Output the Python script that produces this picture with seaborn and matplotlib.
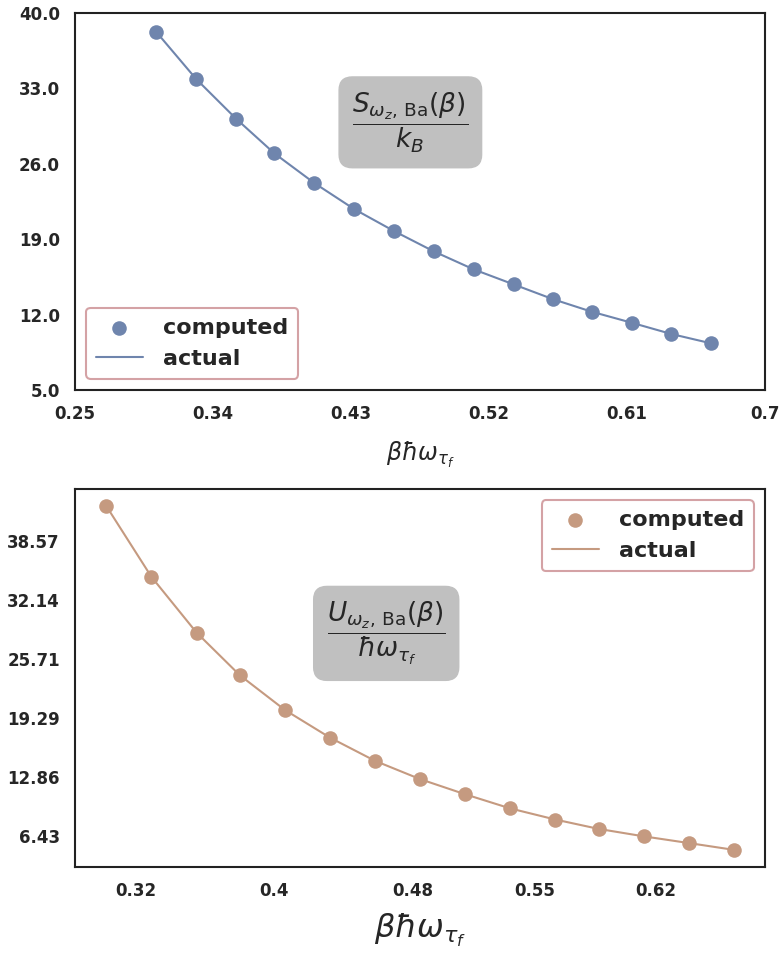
import matplotlib
matplotlib.use("Agg")
import matplotlib.pyplot as plt
import numpy as np
import pandas as pd
import seaborn as sns

# beta * hbar * omega_tau_f sample points
beta_hw = [0.303, 0.329, 0.355, 0.380, 0.406, 0.432, 0.458, 0.484,
           0.510, 0.536, 0.562, 0.587, 0.613, 0.639, 0.665]

# entropy S / k_B
entropy = [38.24, 33.87, 30.19, 26.97, 24.22, 21.80, 19.76, 17.87,
           16.20, 14.81, 13.42, 12.27, 11.25, 10.20, 9.33]

# internal energy U / (hbar omega)
energy = [42.31, 34.61, 28.55, 23.90, 20.12, 17.11, 14.58, 12.59,
          10.94, 9.40, 8.19, 7.17, 6.36, 5.63, 4.89]

top_xticks = [0.25, 0.34, 0.43, 0.52, 0.61, 0.7]
top_xlabels = ["0.25", "0.34", "0.43", "0.52", "0.61", "0.7"]
top_yticks = [5.0, 12.0, 19.0, 26.0, 33.0, 40.0]
top_ylabels = ["5.0", "12.0", "19.0", "26.0", "33.0", "40.0"]

bot_xticks = [0.32, 0.4, 0.48, 0.55, 0.62]
bot_xlabels = ["0.32", "0.4", "0.48", "0.55", "0.62"]
bot_yticks = [6.43, 12.86, 19.29, 25.71, 32.14, 38.57]
bot_ylabels = ["6.43", "12.86", "19.29", "25.71", "32.14", "38.57"]

sns.set_theme(style="white")

blue = "#6F85AD"
brown = "#C59A80"
legend_edge = "#D4A2A5"

df = pd.DataFrame({"x": beta_hw, "S": entropy, "U": energy})

fig = plt.figure(figsize=(7.8, 9.56), dpi=100)
ax1 = fig.add_axes([0.0962, 0.592, 0.8846, 0.3944])
ax2 = fig.add_axes([0.0962, 0.0931, 0.8846, 0.3954])


def draw(ax, col, color):
    sns.scatterplot(data=df, x="x", y=col, ax=ax, color=color, s=110,
                    linewidth=0, label="computed", zorder=3)
    sns.lineplot(data=df, x="x", y=col, ax=ax, color=color, lw=1.5,
                 label="actual", zorder=2)


draw(ax1, "S", blue)
draw(ax2, "U", brown)

ax1.set_xlim(0.25, 0.7)
ax1.set_ylim(5.0, 40.0)
ax1.set_xticks(top_xticks)
ax1.set_xticklabels(top_xlabels)
ax1.set_yticks(top_yticks)
ax1.set_yticklabels(top_ylabels)
ax1.set_xlabel(r"$\beta\hbar\omega_{\tau_f}$", fontsize=17, labelpad=12)
ax1.set_ylabel("")

ax2.set_xticks(bot_xticks)
ax2.set_xticklabels(bot_xlabels)
ax2.set_yticks(bot_yticks)
ax2.set_yticklabels(bot_ylabels)
ax2.set_xlabel(r"$\beta\hbar\omega_{\tau_f}$", fontsize=23, labelpad=8)
ax2.set_ylabel("")

box = dict(boxstyle="round,pad=0.5", facecolor="#C0C0C0",
           edgecolor="#C0C0C0")
ax1.text(0.486, 0.71,
         r"$\dfrac{S_{\omega_z,\,\mathrm{Ba}}(\beta)}{k_B}$",
         transform=ax1.transAxes, ha="center", va="center",
         fontsize=19, bbox=box)
ax2.text(0.451, 0.618,
         r"$\dfrac{U_{\omega_z,\,\mathrm{Ba}}(\beta)}{\hbar\omega_{\tau_f}}$",
         transform=ax2.transAxes, ha="center", va="center",
         fontsize=19, bbox=box)

for ax, loc in ((ax1, "lower left"), (ax2, "upper right")):
    for lab in ax.get_xticklabels() + ax.get_yticklabels():
        lab.set_fontweight("bold")
        lab.set_fontsize(12)
    ax.tick_params(axis="both", pad=5)
    for sp in ax.spines.values():
        sp.set_color("#222222")
        sp.set_linewidth(1.5)
    handles, labels = ax.get_legend_handles_labels()
    leg = ax.legend(handles, labels, loc=loc,
                    prop={"weight": "bold", "size": 16},
                    frameon=True, fancybox=True, framealpha=1,
                    edgecolor=legend_edge, borderpad=0.45,
                    handlelength=2.1, handletextpad=0.9)
    leg.get_frame().set_linewidth(1.5)

fig.savefig("out.png", dpi=100)
